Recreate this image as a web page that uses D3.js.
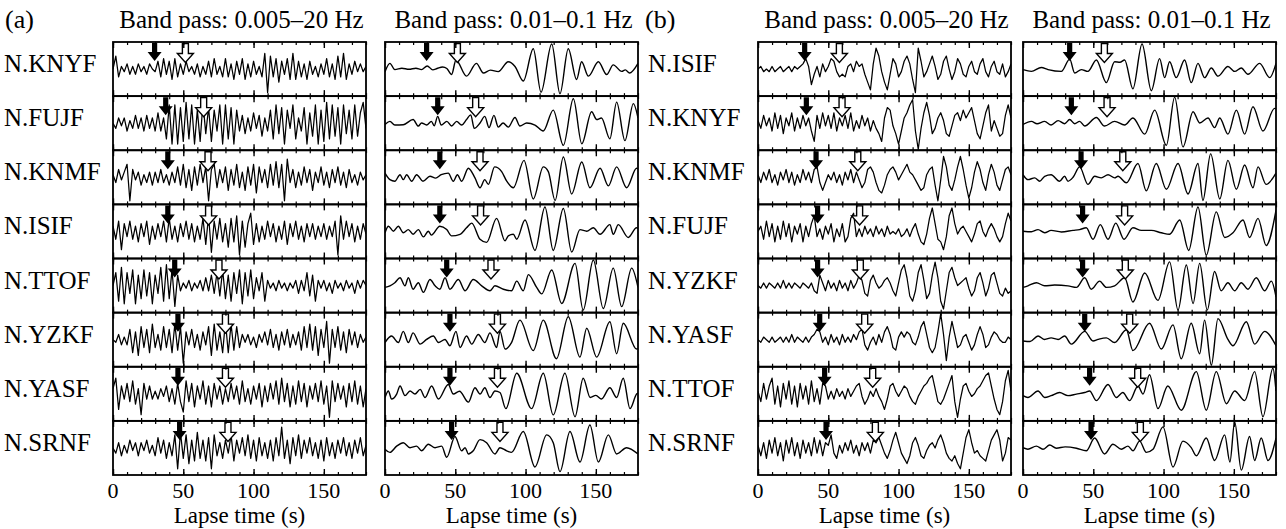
<!DOCTYPE html>
<html>
<head>
<meta charset="utf-8">
<script src="https://cdn.jsdelivr.net/npm/d3@7"></script>
<style>
  body { margin: 0; background: #fff; }
  text { font-family: "Liberation Serif", "Times New Roman", serif; fill: #000; }
</style>
</head>
<body>
<svg id="chart"></svg>
<script>
// Station order of each panel
const stationsA = ["N.KNYF", "N.FUJF", "N.KNMF", "N.ISIF", "N.TTOF", "N.YZKF", "N.YASF", "N.SRNF"];
const stationsB = ["N.ISIF", "N.KNYF", "N.KNMF", "N.FUJF", "N.YZKF", "N.YASF", "N.TTOF", "N.SRNF"];
const panelLabels = ["(a)", "(b)"];
const bandTitles = ["Band pass: 0.005\u201320 Hz", "Band pass: 0.01\u20130.1 Hz"];
const tickLabels = [0, 50, 100, 150];
const axisTitle = "Lapse time (s)";

// P (filled) and S (open) arrival times, s
const pArrivalA = [29.6, 37.5, 39, 39, 43.9, 46.2, 46.2, 47.4];
const sArrivalA = [51.5, 64.5, 67.6, 68, 75.4, 80, 80, 81.8];
const pArrivalB = [33.2, 34.4, 41.3, 42.4, 42.4, 43.9, 47.4, 48.4];
const sArrivalB = [57.9, 59.8, 71, 72.3, 72.8, 75.9, 81.6, 83.5];

// broadband traces, one sample every 2 s from 0 to 180 s (amplitude -10..10)
const dtBroad = 2;
const broadbandA = [
  [0,5,-3,1,-1,2,-2,1,-2,2, -1,1,-2,2,0,-1,3,-3,4,-2, 3,-4,4,-3,2,-2,3,-1,1,-2, 2,-3,1,-2,3,-3,4,-2,1,-3,
   4,-3,2,-4,3,-2,4,-4,2,-3, 3,-2,1,-3,6,-9,5,-3,4,-5, 3,-2,4,-4,6,-4,3,-3,2,-4, 3,-2,1,-3,2,-2,4,-3,2,-4,
   5,-3,6,-4,2,-2,3,-1,2,-1, 1],
  [0,-2,2,-1,2,-3,1,-2,3,-2, 2,-3,3,-2,2,-3,4,-3,2,-6, 7,-8,7,-8,6,-7,8,-6,7,-8, 5,-7,8,-4,6,-7,5,-3,7,-8,
   7,-6,6,-8,5,-3,3,-4,2,-3, 4,-2,3,-5,2,-3,5,-6,7,-4, 6,-8,5,-2,7,-6,2,-3,6,-8, 4,-5,7,-8,5,-7,8,-6,7,-5,
   6,-8,7,-4,5,-6,7,-5,4,8, -2],
  [1,-2,3,-1,2,5,-9,3,-1,2, -3,1,-2,2,-3,2,-2,3,-2,1, -3,2,-2,4,-3,5,-4,3,-5,4, -3,5,-2,4,-9,3,5,-4,3,-2,
   4,-5,3,-3,5,-4,2,-5,4,-3, 5,-6,4,-2,3,-4,5,-3,6,-4, 5,-9,7,-2,3,-4,2,-3,4,-2, 3,-5,2,-2,4,-3,2,-4,3,-2,
   4,-3,2,-4,3,-2,1,-3,2,-1, 1],
  [2,-3,4,-7,3,-2,4,-3,2,-4, 3,-2,4,-5,2,-3,3,-2,4,-4, 5,-3,2,-4,3,-2,4,-3,3,-4, 2,-3,5,-5,6,-8,4,-3,5,-4,
   3,-6,5,-4,6,-9,4,-6,3,7, -5,3,-4,2,-3,4,-2,3,-4,2, -3,4,-5,3,-2,4,-3,2,-4,3, -2,3,-3,2,-2,3,-3,2,-2,4,
   -9,6,-3,4,-2,3,-4,2,-3,3, -1],
  [0,5,-6,7,-7,5,-3,6,-7,4, -5,6,-4,5,-7,4,-3,7,-6,8, -5,6,-8,4,-2,1,-1,2,-2,1, -1,2,-2,3,-2,4,-3,5,-4,6,
   -5,4,-6,5,-3,6,-7,5,-4,6, -5,3,-2,5,-6,2,-1,1,-2,2, -1,1,-2,1,-1,2,-3,2,-2,5, -4,4,-6,2,-1,2,-2,1,-3,2,
   -1,1,-2,2,-1,1,-3,2,-1,2, 0],
  [0,-1,2,-2,1,-2,4,-5,3,-6, 5,-3,4,-5,6,-3,2,-4,5,-3, 4,-5,6,-4,5,-9,3,-2,4,-3, 2,-4,3,-2,5,-6,6,-4,3,-5,
   7,-5,6,-4,5,-3,2,-1,2,-2, 1,-3,2,-1,3,-2,4,-3,2,-4, 3,-2,4,-3,2,-2,3,-4,5,-3, 6,-4,5,-6,4,-3,7,-9,4,-3,
   5,-4,3,-5,4,-2,3,-3,2,-1, 1],
  [2,6,-6,3,-2,4,-3,5,-4,2, -8,4,-2,3,-2,1,-2,2,-1,3, -3,2,-4,4,-3,-7,5,-3,4,-5, 3,-2,5,-4,3,-5,4,-2,3,-4,
   2,-3,4,-2,3,-4,5,-3,2,-4, 3,-2,4,-5,3,-3,4,-2,5,-4, 6,-3,4,-5,3,-4,5,-3,4,-5, 3,-2,4,-3,5,-4,3,-9,5,-3,
   4,-2,3,-5,4,-3,5,-4,3,-5, 2],
  [0,-2,2,-3,1,-2,3,-1,2,-3, 2,-1,3,-2,1,-3,4,-2,3,-4, 2,-3,5,-8,6,-4,5,-6,3,-5, 6,-4,3,-5,4,-8,5,-3,2,-4,
   3,-2,5,-5,3,-2,4,-3,5,-4, 3,-5,4,-3,2,-4,3,-5,4,-3, 8,-4,3,-6,4,-3,5,-4,3,-2, 4,-3,2,-4,3,-5,4,-3,2,-4,
   3,-2,4,-3,2,-4,3,-2,4,-3, 1]
];
const broadbandB = [
  [0,1,-1,0,-1,1,-1,0,1,-1, 0,1,-1,1,0,1,2,4,1,-6, -2,1,-3,2,-1,1,4,3,-1,-3, -2,-3,1,2,-1,3,1,2,-2,-5,
   -8,2,8,5,-1,-5,-8,-2,4,2, -3,-1,3,5,2,-4,-9,8,3,-3, -1,2,5,1,-4,-2,3,5,0,-4, -1,4,2,-2,-3,1,3,-1,-2,2,
   4,-1,-3,1,3,-1,-2,2,-3,-1, 2],
  [1,-2,3,-1,2,-3,4,-2,3,-4, 2,-1,4,-3,2,-2,3,-1,2,-3, -7,3,-2,4,-1,3,-2,4,-3,2, -1,3,-2,4,-3,1,-2,3,-1,2,
   -3,1,-2,-4,-7,2,6,5,-1,-4, -8,-3,2,4,7,9,-3,-10,-2,4, 8,3,-4,-2,2,4,1,-4,-5,-1, 3,4,1,5,2,4,6,1,-4,-6,
   -1,4,7,-3,1,-2,-5,-4,3,7, 2],
  [1,-2,2,-1,3,-2,1,-3,2,-1, 3,-2,2,-3,1,-2,3,-1,2,-2, 3,4,-2,-5,-2,1,-1,2,-2,1, -3,2,-1,3,-2,2,-1,-4,-2,3,
   4,2,-2,-5,-6,-3,1,3,4,2, -1,1,3,5,2,1,-1,-3,-5,-4, 1,3,4,-3,-9,-1,8,4,-3,-5, -1,4,8,3,-3,-8,-4,2,6,3,
   -2,-5,1,5,2,-3,-5,-1,3,4, 1],
  [0,2,-3,4,-2,3,-4,2,-3,4, -2,3,-4,2,-1,3,-4,2,-2,3, 6,-2,1,-3,2,-1,3,-4,1,-2, 3,-4,-2,5,7,-2,1,-2,2,-1,
   1,-2,2,-1,1,-2,2,-1,0,-1, 1,-2,-1,1,-2,1,3,-1,-4,-5, -1,5,9,3,-3,-4,-7,-2,6,9, 3,-1,1,2,0,-2,-4,-1,3,4,
   0,-2,1,3,1,-2,-4,-2,3,7, 4],
  [0,-1,1,-1,1,0,-1,1,-1,2, -1,1,-1,1,0,-1,1,0,-1,1, -2,-3,4,1,-2,2,-1,1,-2,2, -1,1,-2,2,-1,1,4,2,-3,-4,
   2,4,1,-1,0,2,3,1,-2,-4, 1,6,8,3,-4,-6,-2,5,8,2, -5,-3,4,9,3,-6,-9,-2,5,7, 3,0,1,2,3,-1,-4,-2,3,5,
   1,-4,-1,4,5,1,-3,-4,-1,-3, -2],
  [0,-1,1,0,-1,1,-1,0,1,-1, 1,-1,2,-1,1,0,-1,1,-1,1, 2,4,3,-1,1,-2,2,-1,1,-2, 2,-1,1,-1,2,0,3,4,-2,-4,
   -1,1,-2,2,-1,3,5,2,-3,-4, 1,3,1,3,2,-1,-2,1,5,7, 2,-3,-5,-3,3,10,2,-8,1,7, 2,-3,-2,1,2,-1,-4,-2,2,5,
   2,-3,-2,1,3,2,0,-1,-1,1, 0],
  [1,-3,4,-2,3,6,-4,3,-5,4, -2,5,-4,3,-5,4,-2,3,-4,5, -3,2,-4,4,3,-2,1,-2,2,-1, 1,-2,2,-1,1,3,4,-1,-4,-2,
   1,-1,2,-1,-3,-6,-2,3,4,1, -1,1,3,2,-1,-3,-4,-1,1,3, 4,6,7,2,-3,-4,-2,1,4,7, -3,-9,-2,3,4,1,-1,0,2,3,
   5,7,8,3,-2,-6,-8,-3,5,9, 1],
  [1,-3,2,-4,3,-2,4,-3,2,-5, 3,-2,4,-3,2,-4,3,-2,2,-3, 4,-2,3,-3,2,1,5,-2,-4,1, -2,2,-1,3,-2,1,-3,2,-1,2,
   -2,3,2,4,1,-2,-4,-1,3,6, 2,-2,-4,-6,-3,2,4,1,-3,-4, -1,1,2,0,3,5,2,-2,-4,-5, -3,-6,-8,-2,4,7,2,-2,-1,-3,
   -4,-5,-1,3,5,7,3,-5,-2,4, 3]
];

// long-period traces as [time (s), amplitude] turning points
const lowpassA = [
  [[0,-1],[3.5,2.2],[7,-0.2],[12,0.3],[17,-0.1],[22,0.3],[26,-0.2],[30,1.2],[34,-0.3],[37,0.2],[41,0.8],[44,0.2],
   [47.4,-2.1],[50.5,3.5],[58,-2.7],[65,2.2],[70,-1.5],[75,-0.4],[80.6,-1],[87.7,2.8],[92.5,1],[98.4,-4.6],
   [105.5,7.8],[111,-8.9],[118.6,9.6],[124.5,-9.5],[130.4,7.8],[136.3,-4],[139.9,2.8],[144.7,-2.7],[151.8,2.8],
   [157.7,-2.1],[162.4,1.6],[168.4,-0.9],[171,-0.3],[174,-1.5],[180,2.2]],
  [[0,-0.5],[3.5,0.7],[7,-0.7],[13,-0.6],[20,1.4],[23.7,-1.1],[26,0.1],[29.6,-0.7],[33,0.7],[35,-1],[37.5,2.6],
   [40,-0.7],[44,0.7],[47.4,-1.1],[51,0.7],[54.5,-0.7],[58,1.4],[61,3.2],[63.5,-2],[67.6,0.1],[71,2.6],[74,-1.7],
   [77.5,3],[80.6,-1.5],[84,0.1],[87.7,-1.5],[92.5,2.2],[96,-1.1],[100.8,0.1],[106.7,-0.7],[112.6,-3],[119.7,5],
   [126.9,-8.5],[134,9.4],[140,-7.9],[147,4.4],[150.6,1.4],[154,2],[160,-6],[164.8,8.1],[170.7,-6.7],[176.7,7.5],[180,2]],
  [[0,1.6],[3.5,-0.9],[7,-1.5],[10.7,1],[13,-0.9],[15.4,1],[19,-1.5],[22.5,1],[27,-1.5],[32,0.4],[36,-0.3],[40,1],
   [45,1.6],[48.6,-1.5],[51.5,1],[54.5,-1.5],[59.3,3.5],[64,-0.2],[67.6,-4],[71,-0.9],[73.5,-2.7],[78,4],[83,2.2],
   [86.6,-1.5],[91.3,-4],[98.9,6.5],[105.5,-8.3],[112.6,4],[116.2,2.2],[121,-8.9],[126.9,7.8],[132.8,-6.4],[140,5.9],
   [145.8,-4],[153,3.5],[158.9,-3.3],[164.8,4],[171.9,-4],[179,3.5],[180,3.3]],
  [[0,-0.5],[2.4,2],[6,0.1],[9.5,2],[13,-0.5],[16.6,0.7],[20,-1.1],[23.7,0.7],[27.3,-2.1],[30.8,0.1],[33,-1.4],[39,2],
   [43.9,0.7],[47.4,-1.7],[53.4,-1.1],[58,1.4],[61.7,3.2],[67.6,-3],[72.3,-4.2],[79.4,5],[85.4,-3.6],[87.7,-1.7],
   [91.3,-1.1],[93.7,-3],[99.6,4.4],[106.7,-7.3],[113.8,9.4],[119.7,-7.3],[126.9,8.8],[132.8,-7.9],[138.7,0.7],
   [143.5,0.1],[148.2,1.4],[153,-1.1],[160,2.6],[162.4,-1.1],[166,2.6],[173,-2.3],[179,1.4],[180,1.2]],
  [[0,-0.7],[3.5,-0.1],[7,1.1],[10.7,3],[14.2,-0.1],[16.6,3],[20,-1.4],[23.7,1.1],[27.3,-2.6],[32,2.3],[35.6,-0.1],
   [39,-1.4],[42.7,3],[46.2,-1.4],[52.2,2.3],[57,-2],[62.8,2.3],[68.8,-0.1],[74.7,-2],[78.2,-0.1],[84.2,-1.4],[90,-2],
   [93.7,1.7],[98.4,-2],[102,4.2],[107.9,-0.7],[111.5,-3.2],[118.6,6],[125.7,-6.9],[135.2,8.5],[141,-9.4],[148.2,9.8],
   [155.3,-8.8],[162.4,6.7],[168.4,-8.1],[175.5,6.7],[180,-0.7]],
  [[0,-1.1],[4.7,1.4],[9.5,-1.1],[13,3.2],[16.6,-1.1],[20,2.6],[25,-1.7],[29.6,0.1],[34.4,1.4],[38,-1.1],[42.7,0.1],
   [46.2,-2.3],[50.5,3.2],[53.4,-3],[58,1.4],[61.7,-1.7],[66.4,2],[71,-1.1],[74.7,2.6],[79.4,-3],[81.8,3.2],[85.4,-3.6],
   [90,-1.1],[96,7.5],[105.5,-4.2],[112.6,7.5],[122,-7.3],[130.4,8.8],[138.7,-6.7],[143.5,4.4],[150.6,-6.7],[160,6.9],
   [164.8,-5.4],[169.5,6.3],[179,-3.6],[180,-3.4]],
  [[0,-1.4],[2.4,1.1],[4.7,-2],[8.3,-0.1],[10.7,3],[14.2,-0.7],[17.8,1.1],[21.3,-0.1],[25,1.7],[28.5,-1.4],[33.2,3],
   [38,-2],[45,3.6],[48.6,-0.1],[53,1],[59.3,-3.2],[64,2.3],[67.6,-0.1],[71,2.3],[74.7,-1.4],[78.2,1.1],[81.8,0.5],
   [86,-5.7],[93.7,7.9],[104.3,-5.7],[112.6,7.9],[119.7,-8.1],[128,7.9],[135.2,-8.8],[141,6],[146,-1.4],[150,-0.6],
   [154,-2],[160,2.3],[164.8,-1.4],[169.5,6],[174.3,-5.7],[179,-0.1],[180,0.3]],
  [[0,-0.5],[3.5,-1.7],[8.3,0.7],[13,2],[17.8,0.1],[22.5,0.7],[26,-1.1],[30.8,1.4],[35.6,0.1],[40.3,0.7],[43.9,-3.6],
   [49.8,4.4],[54.5,-1.1],[57,0.1],[59.3,-2.3],[62.8,-1.1],[67.6,3.2],[72.3,2],[78.2,-2.3],[81.8,0.1],[86.6,-1.1],
   [90,-1.7],[98.4,6.3],[106.7,-7.3],[115,5],[119.7,2],[124.5,-9.1],[131.6,6.3],[138.7,-5.4],[145.8,8.8],[151.8,-5.4],
   [158.9,5],[164.8,-2.3],[171.9,0.1],[180,-2.3]]
];
const lowpassB = [
  [[0,-0.2],[6,-0.9],[13,0.6],[17.8,-0.2],[27.3,-0.9],[33.2,3.8],[36.8,-1.5],[41.5,-0.2],[46.2,-0.9],[52.2,3.5],
   [59.3,-5.2],[65.2,2.8],[69,2.6],[72.3,3.5],[78.2,-7.6],[84.7,9.6],[91.3,-8.3],[97.2,4],[100.8,-3.3],[104.3,2.8],
   [109,-3.3],[115,3.5],[119.7,-5.2],[124.5,2.2],[129.2,-3.3],[134,0.4],[138.7,-2.7],[145.8,1],[150.6,-0.9],
   [155.3,0.4],[160,-2],[168.4,2.2],[175.5,-3.3],[180,2.2]],
  [[0,-0.5],[6,0.7],[10,-0.2],[15.4,0.7],[20,-0.7],[25,1],[29.6,-0.2],[33.2,1.4],[36.8,-0.2],[40.3,0.7],[43.9,-1.1],
   [52.2,2.2],[58,-1.1],[65.2,0.7],[72.3,-0.7],[78.2,2],[86.6,-4.2],[93.7,5],[102,-8.5],[107.9,10],[113.8,-9.1],
   [121,4.4],[125.7,0.1],[131.6,2],[136.3,-1.7],[140,2],[145.8,-4.2],[151.8,5],[157.7,-4.2],[163.6,6.3],[170.7,-3],
   [179,5.7],[180,5.5]],
  [[0,1],[3.5,-0.9],[8.3,-0.2],[11.9,-1.5],[15.4,0.4],[20,1],[26,-1.5],[29.6,0.4],[32,-1.5],[35.6,0],[40.3,4],
   [46.2,-2.7],[51,0.4],[55.7,-0.2],[60.5,1],[65.2,-0.2],[67.6,0.4],[73.5,-2.1],[81.8,5.3],[87.7,-5.2],[94.8,5.3],
   [102,-4.6],[110.3,5.3],[117.4,-6.4],[124.5,5.3],[128,-8.9],[133.5,9],[140,-8.3],[145.8,6.5],[151.8,-4.6],
   [157.7,4.7],[163.6,-4],[167.2,4],[173,-2.7],[180,1.6]],
  [[0,0.1],[6,-0.1],[10.7,0.7],[15.4,-0.5],[20,0.4],[27.3,-0.2],[35.6,0.4],[40.3,0.7],[45,1.4],[49.8,-3],[55,2.6],
   [60.5,-3],[66,3.2],[71.9,-3],[78.2,1.4],[84.2,0.4],[91.3,0.4],[98.4,-0.5],[104.3,-1.1],[111.5,4.4],[117.9,-7.3],
   [124.5,9.4],[130.4,-9.1],[137.5,7.5],[143.5,-2.3],[149.4,-0.5],[156.5,4.4],[161.2,-2.3],[167.2,5],[173,-5.4],[180,8.1]],
  [[0,-0.7],[3.5,-0.1],[9.5,1.1],[15.4,-0.1],[22.5,0.2],[32,-0.1],[38,-0.7],[43.9,3],[48.6,-1.4],[54.5,1.7],[59.3,-0.7],
   [65.2,-0.1],[72.3,3],[78.2,-6.3],[86.6,4.8],[96,-5.7],[104.3,9.1],[110.3,-9.4],[116.2,7.9],[121,-6.9],[125.7,8.5],
   [131.1,-9.4],[136.3,5.4],[141,-2],[145.8,1.1],[150.6,-2],[155.3,1.1],[160,-1.4],[166,3],[171.9,-2],[176.7,1.7],[180,-4.3]],
  [[0,-0.5],[5,-0.7],[10.7,1.4],[15.4,0.1],[20,0.7],[25,0.1],[29.6,1.4],[34.4,-1.7],[43.9,3.2],[49.8,-0.5],[53.4,0.1],
   [59.3,0.7],[65.2,-1.1],[73.5,3.8],[78.2,-4.2],[90,6.3],[98.4,-3.6],[106.7,5.7],[112.6,-7.3],[119.7,6.3],[125.7,-5.4],
   [129.2,7.5],[134,-9.8],[138.7,8.1],[145.8,0.1],[149.4,-2.3],[158.9,6.9],[164.8,-1.7],[171.9,3.2],[180,-2.3]],
  [[0,-0.7],[3.5,-1.4],[10.7,1.1],[15.4,-1.4],[20,-0.7],[26,0.5],[32,-0.7],[38,-0.1],[43.9,0.5],[47.4,1.1],[52.2,-2.6],
   [60.5,3.6],[66.4,-1.4],[71,0.5],[75.9,-2.6],[81.8,3],[85.4,-0.1],[90,7.3],[96,-5.7],[103,3],[112.6,-6.3],[123.3,8.5],
   [130.4,-6.3],[137.5,8.5],[144.7,-3.8],[150.6,1.1],[157.7,-2.6],[164.8,8.5],[170.7,-8.8],[177.8,9.8],[180,1.1]],
  [[0,0.1],[3.5,-0.5],[9.5,0.7],[14.2,-0.5],[19,1.1],[23.7,-0.1],[30,0.4],[38,-0.1],[45,-1.1],[51,3.8],[58,-2.3],
   [64,1.4],[70,-0.5],[74.7,0.7],[78.2,-1.1],[83,2.6],[87.7,-1.7],[92.5,-0.5],[99.6,8.1],[106.7,-7.3],[113.8,2.6],
   [119.7,0.1],[123.3,-3],[130.4,3.8],[136.3,-4.8],[143.5,5],[147.2,-5.4],[150.6,10],[155.3,-8.5],[161.2,4.4],
   [164.8,-4.8],[169.5,3.8],[174.3,-4.8],[180,3.8]]
];

// layout
const width = 1286;
const height = 529;
const tMax = 180;
const frameTop = 42;
const frameBottom = 475;
const panelW = 253;
const rowH = (frameBottom - frameTop) / 8;

const svg = d3.select("#chart").attr("width", width).attr("height", height);

const panels = [
  { x0: 113, title: bandTitles[0], traces: broadbandA, smooth: false, p: pArrivalA, s: sArrivalA, names: stationsA, nameX: 4 },
  { x0: 385, title: bandTitles[1], traces: lowpassA, smooth: true, p: pArrivalA, s: sArrivalA },
  { x0: 758, title: bandTitles[0], traces: broadbandB, smooth: false, p: pArrivalB, s: sArrivalB, names: stationsB, nameX: 648 },
  { x0: 1023, title: bandTitles[1], traces: lowpassB, smooth: true, p: pArrivalB, s: sArrivalB }
];

// panel letters
svg.append("text").attr("x", 5).attr("y", 28).attr("font-size", 26).text(panelLabels[0]);
svg.append("text").attr("x", 645).attr("y", 28).attr("font-size", 26).text(panelLabels[1]);

const defs = svg.append("defs");

// arrow outline pointing down, tip at (cx, top + len)
function arrow(cx, top, halfHead, halfShaft, len, headLen) {
  const yh = top + len - headLen;
  return d3.line()([
    [cx - halfShaft, top], [cx + halfShaft, top], [cx + halfShaft, yh], [cx + halfHead, yh],
    [cx, top + len], [cx - halfHead, yh], [cx - halfShaft, yh]
  ]) + "Z";
}

panels.forEach((p, pi) => {
  const x = d3.scaleLinear().domain([0, tMax]).range([p.x0, p.x0 + panelW]);
  const g = svg.append("g");

  g.append("text")
    .attr("x", x(tMax / 2) + 2)
    .attr("y", 28)
    .attr("text-anchor", "middle")
    .attr("font-size", 25)
    .text(p.title);

  p.traces.forEach((tr, i) => {
    const top = frameTop + i * rowH;
    const y = d3.scaleLinear().domain([-10, 10]).range([top + rowH - 1, top + 1]);

    const clipId = `clip-${pi}-${i}`;
    defs.append("clipPath").attr("id", clipId)
      .append("rect").attr("x", p.x0).attr("y", top).attr("width", panelW).attr("height", rowH);

    const line = p.smooth
      ? d3.line().x(d => x(d[0])).y(d => y(d[1])).curve(d3.curveMonotoneX)
      : d3.line().x((d, j) => x(j * dtBroad)).y(d => y(d));

    g.append("path")
      .datum(tr)
      .attr("d", line)
      .attr("fill", "none")
      .attr("stroke", "#000")
      .attr("stroke-width", p.smooth ? 1.4 : 1.25)
      .attr("stroke-linejoin", "round")
      .attr("clip-path", `url(#${clipId})`);

    // arrivals
    g.append("path")
      .attr("d", arrow(x(p.p[i]), top + 1, 7, 2.6, 18, 9))
      .attr("fill", "#000");
    g.append("path")
      .attr("d", arrow(x(p.s[i]), top + 1.5, 8, 3, 19, 9))
      .attr("fill", "#fff")
      .attr("stroke", "#000")
      .attr("stroke-width", 1.4);

    // ticks on top and bottom edge of each row
    const minor = d3.range(0, tMax + 1, 10);
    [[d3.axisBottom, top], [d3.axisTop, top + rowH]].forEach(([ax, yy]) => {
      g.append("g").attr("transform", `translate(0,${yy})`)
        .call(ax(x).tickValues(minor).tickSize(3).tickFormat(""))
        .call(a => a.select(".domain").remove())
        .call(a => a.selectAll("line").attr("stroke-width", 1.2));
      g.append("g").attr("transform", `translate(0,${yy})`)
        .call(ax(x).tickValues(tickLabels).tickSize(6).tickFormat(""))
        .call(a => a.select(".domain").remove())
        .call(a => a.selectAll("line").attr("stroke-width", 1.4));
    });

    g.append("rect")
      .attr("x", p.x0).attr("y", top)
      .attr("width", panelW).attr("height", rowH)
      .attr("fill", "none").attr("stroke", "#000").attr("stroke-width", 1.8);

    if (p.names) {
      svg.append("text")
        .attr("x", p.nameX)
        .attr("y", top + rowH / 2 + 3)
        .attr("font-size", 25)
        .text(p.names[i]);
    }
  });

  // bottom tick labels
  g.selectAll("text.tick-label")
    .data(tickLabels)
    .enter()
    .append("text")
    .attr("class", "tick-label")
    .attr("x", d => x(d))
    .attr("y", 498)
    .attr("text-anchor", "middle")
    .attr("font-size", 22)
    .text(d => d);

  g.append("text")
    .attr("x", x(tMax / 2))
    .attr("y", 523)
    .attr("text-anchor", "middle")
    .attr("font-size", 23)
    .text(axisTitle);
});
</script>
</body>
</html>
